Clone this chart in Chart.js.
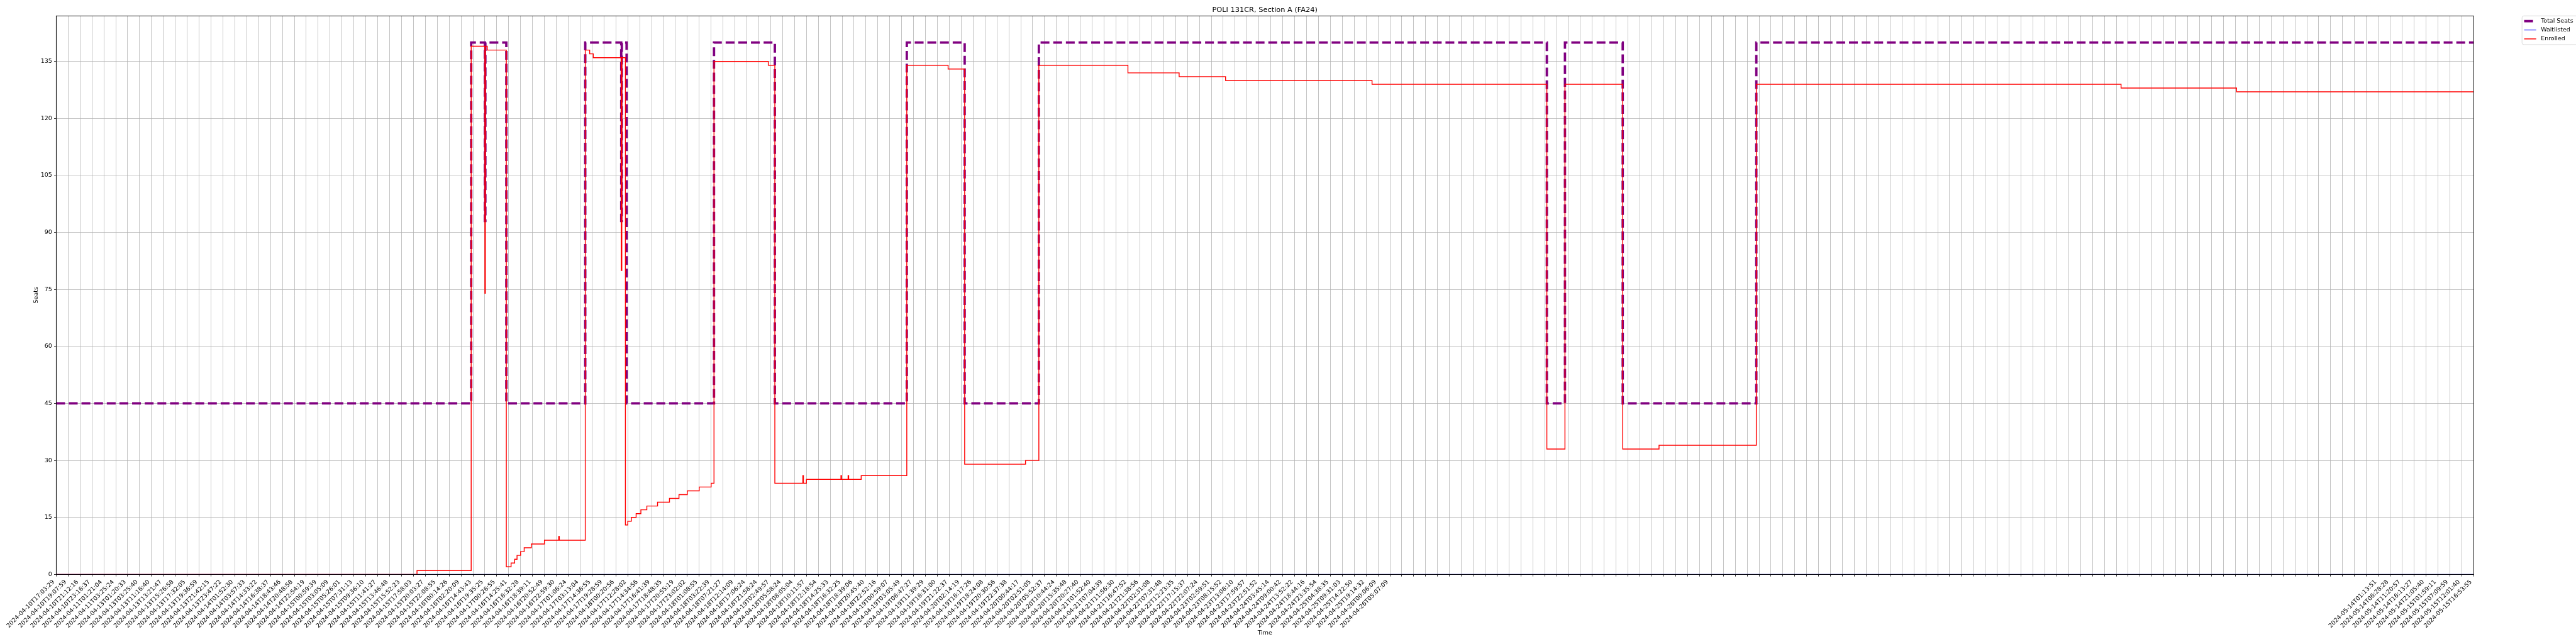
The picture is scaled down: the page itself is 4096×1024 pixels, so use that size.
<!DOCTYPE html>
<html>
<head>
<meta charset="utf-8">
<title>POLI 131CR, Section A (FA24)</title>
<script src="https://cdn.jsdelivr.net/npm/chart.js@4"></script>
<style>
  html, body { margin: 0; padding: 0; background: #fff; }
</style>
</head>
<body>
<canvas id="chart" width="4096" height="1024"></canvas>
<script>
// chart text
const titleText = "POLI 131CR, Section A (FA24)";
const xTitle = "Time";
const yTitle = "Seats";
const seriesNames = ["Total Seats", "Waitlisted", "Enrolled"];

// x tick labels (every tick is one category slot on the time axis)
const tickLabels = [
  "2024-04-10T17:03:29", "2024-04-10T19:07:59", "2024-04-10T21:12:16", "2024-04-10T23:16:37",
  "2024-04-11T01:21:04", "2024-04-11T03:25:24", "2024-04-13T01:20:33", "2024-04-13T03:25:40",
  "2024-04-13T11:16:40", "2024-04-13T13:21:47", "2024-04-13T15:26:58", "2024-04-13T17:32:05",
  "2024-04-13T19:36:59", "2024-04-13T21:42:15", "2024-04-13T23:47:22", "2024-04-14T01:52:30",
  "2024-04-14T03:57:33", "2024-04-14T14:33:22", "2024-04-14T16:38:37", "2024-04-14T18:43:46",
  "2024-04-14T20:48:58", "2024-04-14T22:54:19", "2024-04-15T00:59:39", "2024-04-15T03:05:09",
  "2024-04-15T05:26:01", "2024-04-15T07:31:13", "2024-04-15T09:36:10", "2024-04-15T11:41:27",
  "2024-04-15T13:46:48", "2024-04-15T15:52:23", "2024-04-15T17:58:03", "2024-04-15T20:03:27",
  "2024-04-15T22:08:55", "2024-04-16T00:14:26", "2024-04-16T02:20:09", "2024-04-16T14:43:43",
  "2024-04-16T19:35:25", "2024-04-17T00:26:55", "2024-04-16T14:25:41", "2024-04-16T16:32:28",
  "2024-04-16T18:39:11", "2024-04-16T20:52:49", "2024-04-16T22:59:30", "2024-04-17T01:06:24",
  "2024-04-17T03:13:04", "2024-04-17T14:36:55", "2024-04-17T19:28:59", "2024-04-18T00:20:56",
  "2024-04-17T12:28:02", "2024-04-17T14:34:56", "2024-04-17T16:41:39", "2024-04-17T18:48:35",
  "2024-04-17T20:55:19", "2024-04-17T23:02:02", "2024-04-18T01:08:55", "2024-04-18T03:22:39",
  "2024-04-18T07:21:27", "2024-04-18T12:14:09", "2024-04-18T17:06:24", "2024-04-18T21:58:24",
  "2024-04-19T02:49:57", "2024-04-18T05:58:24", "2024-04-18T08:05:04", "2024-04-18T10:11:57",
  "2024-04-18T12:18:54", "2024-04-18T14:25:33", "2024-04-18T16:32:25", "2024-04-18T18:39:06",
  "2024-04-18T20:45:40", "2024-04-18T22:52:16", "2024-04-19T00:59:07", "2024-04-19T03:05:49",
  "2024-04-19T06:47:27", "2024-04-19T11:39:29", "2024-04-19T16:31:00", "2024-04-19T21:22:37",
  "2024-04-20T02:14:19", "2024-04-19T16:17:26", "2024-04-19T18:24:08", "2024-04-19T20:30:56",
  "2024-04-19T22:37:38", "2024-04-20T00:44:17", "2024-04-20T02:51:05", "2024-04-20T05:52:37",
  "2024-04-20T10:44:24", "2024-04-20T15:35:48", "2024-04-20T20:27:40", "2024-04-21T01:52:40",
  "2024-04-21T07:04:39", "2024-04-21T11:56:30", "2024-04-21T16:47:52", "2024-04-21T21:38:56",
  "2024-04-22T02:31:08", "2024-04-22T07:31:48", "2024-04-22T12:23:35", "2024-04-22T17:15:37",
  "2024-04-22T22:07:24", "2024-04-23T02:59:51", "2024-04-23T08:15:52", "2024-04-23T13:08:10",
  "2024-04-23T17:59:57", "2024-04-23T22:51:52", "2024-04-24T03:45:14", "2024-04-24T09:00:42",
  "2024-04-24T13:52:22", "2024-04-24T18:44:16", "2024-04-24T23:35:54", "2024-04-25T04:38:35",
  "2024-04-25T09:31:03", "2024-04-25T14:22:50", "2024-04-25T19:14:32", "2024-04-26T00:06:09",
  "2024-04-26T05:07:09",
  "", "", "", "", "", "", "", "", "", "", "", "", "", "", "", "", "", "", "", "",
  "", "", "", "", "", "", "", "", "", "", "", "", "", "", "", "", "", "", "", "",
  "", "", "", "", "", "", "", "", "", "", "", "", "", "", "", "", "", "", "", "",
  "", "", "", "", "", "", "", "", "", "", "", "", "", "", "", "", "", "", "", "",
  "", "",
  "2024-05-14T01:13:51", "2024-05-14T06:28:28", "2024-05-14T11:20:57", "2024-05-14T16:13:27",
  "2024-05-14T21:05:40", "2024-05-15T01:59:11", "2024-05-15T07:09:59", "2024-05-15T12:01:40",
  "2024-05-15T16:53:55"
];

// series: x is the position on the time axis in tick slots, y is seats
const totalX = [0, 34.85, 36.0, 36.04, 37.8, 44.43, 47.45, 47.5, 47.9, 55.24, 60.35, 71.43, 76.29, 82.52, 125.18, 126.7, 131.55, 142.77, 204];
const totalY = [45, 140, 93, 140, 45, 140, 93, 140, 45, 140, 45, 140, 45, 140, 45, 140, 45, 140, 140];

const waitX = [0, 204];
const waitY = [0, 0];

const enrolledX = [0, 30.3, 34.85, 36.0, 36.04, 36.2, 37.8, 38.2, 38.5, 38.7, 39.0, 39.3, 39.9, 41.0, 42.2, 42.25, 44.43, 44.8, 45.1,
  47.45, 47.5, 47.8, 48.0, 48.3, 48.7, 49.1, 49.6, 50.5, 51.5, 52.3, 53.0, 54.0, 55.0, 55.24, 59.8, 60.35, 62.7, 62.75, 63.0,
  65.9, 65.95, 66.5, 66.55, 67.6, 71.43, 74.9, 76.29, 81.4, 82.52, 90.0, 94.3, 98.2, 110.5, 125.18, 126.7, 131.55, 134.6,
  142.77, 173.4, 183.1, 204];
const enrolledY = [0, 1, 139, 74, 139, 138, 2, 3, 4, 5, 6, 7, 8, 9, 10, 9, 138, 137, 136,
  80, 136, 13, 14, 15, 16, 17, 18, 19, 20, 21, 22, 23, 24, 135, 134, 24, 26, 24, 25,
  26, 25, 26, 25, 26, 134, 133, 29, 30, 134, 132, 131, 130, 129, 33, 129, 33, 34,
  129, 128, 127, 127];

const S = 0.682;
const FONT = '"DejaVu Sans", "Liberation Sans", sans-serif';

function pts(xs, ys) {
  return xs.map((x, i) => ({ x: x, y: ys[i] }));
}

// frame, titles and legend drawn like the matplotlib original
const decor = {
  id: 'decor',
  afterDraw(chart) {
    const ctx = chart.ctx;
    const a = chart.chartArea;
    ctx.save();
    ctx.strokeStyle = '#000';
    ctx.lineWidth = 0.8;
    ctx.strokeRect(a.left, a.top, a.right - a.left, a.bottom - a.top);

    ctx.fillStyle = '#000';
    ctx.textAlign = 'center';
    ctx.textBaseline = 'middle';
    ctx.font = (16.67 * S).toFixed(2) + 'px ' + FONT;
    ctx.fillText(titleText, (a.left + a.right) / 2, 23.5 * S);
    ctx.font = (13.9 * S).toFixed(2) + 'px ' + FONT;
    ctx.fillText(xTitle, (a.left + a.right) / 2, 1476 * S);
    ctx.save();
    ctx.translate(84 * S, (a.top + a.bottom) / 2);
    ctx.rotate(-Math.PI / 2);
    ctx.fillText(yTitle, 0, 0);
    ctx.restore();

    // legend box
    const bx = 5880 * S, by = 37 * S, bw = 200 * S, bh = 67 * S, r = 3;
    ctx.beginPath();
    ctx.moveTo(bx + r, by);
    ctx.lineTo(bx + bw, by);
    ctx.lineTo(bx + bw, by + bh);
    ctx.lineTo(bx + r, by + bh);
    ctx.arcTo(bx, by + bh, bx, by + bh - r, r);
    ctx.lineTo(bx, by + r);
    ctx.arcTo(bx, by, bx + r, by, r);
    ctx.closePath();
    ctx.fillStyle = 'rgba(255,255,255,0.8)';
    ctx.fill();
    ctx.strokeStyle = '#cccccc';
    ctx.lineWidth = 0.7;
    ctx.stroke();

    const rows = [49.3 * S, 70 * S, 90.7 * S];
    const x0 = 5885 * S, x1 = 5913 * S;
    const styles = [
      { c: 'purple', w: 5.56 * S, dash: [20.6 * S, 8.9 * S] },
      { c: 'blue', w: 1.39 * S, dash: [] },
      { c: 'red', w: 2.08 * S, dash: [] }
    ];
    styles.forEach((s, i) => {
      ctx.beginPath();
      ctx.setLineDash(s.dash);
      ctx.strokeStyle = s.c;
      ctx.lineWidth = s.w;
      ctx.moveTo(x0, rows[i]);
      ctx.lineTo(x1, rows[i]);
      ctx.stroke();
    });
    ctx.setLineDash([]);
    ctx.fillStyle = '#000';
    ctx.textAlign = 'left';
    ctx.font = (13.9 * S).toFixed(2) + 'px ' + FONT;
    seriesNames.forEach((n, i) => ctx.fillText(n, 5924 * S, rows[i]));
    ctx.restore();
  }
};

const plotLeft = 131 * S, plotRight = 5767 * S, plotTop = 37 * S, plotBottom = 1339.2 * S;
const tickFont = { family: FONT, size: 13.9 * S };

new Chart(document.getElementById('chart'), {
  type: 'line',
  data: {
    datasets: [
      {
        label: seriesNames[0],
        data: pts(totalX, totalY),
        borderColor: 'purple',
        borderWidth: 5.56 * S,
        borderDash: [20.6 * S, 8.9 * S],
        stepped: true,
        pointRadius: 0,
        order: 3
      },
      {
        label: seriesNames[1],
        data: pts(waitX, waitY),
        borderColor: 'blue',
        borderWidth: 1.39 * S,
        stepped: true,
        pointRadius: 0,
        order: 2
      },
      {
        label: seriesNames[2],
        data: pts(enrolledX, enrolledY),
        borderColor: 'red',
        borderWidth: 2.08 * S,
        stepped: true,
        pointRadius: 0,
        order: 1
      }
    ]
  },
  options: {
    responsive: false,
    animation: false,
    events: [],
    layout: { padding: { left: 0, top: plotTop, right: 4096 - plotRight, bottom: 0 } },
    plugins: { legend: { display: false }, tooltip: { enabled: false }, title: { display: false } },
    scales: {
      x: {
        type: 'linear',
        min: 0,
        max: tickLabels.length - 1,
        afterFit(scale) {
          scale.height = 1024 - plotBottom;
          scale.paddingLeft = 0;
          scale.paddingRight = 0;
        },
        border: { display: true, color: '#000', width: 0.8 },
        grid: { color: '#b0b0b0', lineWidth: 1.1 * S, tickLength: 4.86 * S, tickColor: '#000', tickWidth: 0.8 },
        ticks: {
          stepSize: 1,
          autoSkip: false,
          includeBounds: false,
          minRotation: 45,
          maxRotation: 45,
          labelOffset: -4,
          padding: 4.86 * S,
          color: '#000',
          font: tickFont,
          callback: (v) => tickLabels[Math.round(v)] || ''
        }
      },
      y: {
        min: 0,
        max: 147,
        afterFit(scale) {
          scale.width = plotLeft;
          scale.paddingTop = 0;
          scale.paddingBottom = 0;
        },
        border: { display: true, color: '#000', width: 0.8 },
        grid: { color: '#b0b0b0', lineWidth: 1.1 * S, tickLength: 4.86 * S, tickColor: '#000', tickWidth: 0.8 },
        ticks: {
          stepSize: 15,
          includeBounds: false,
          padding: 4.86 * S,
          color: '#000',
          font: tickFont
        }
      }
    }
  },
  plugins: [decor]
});
</script>
</body>
</html>
